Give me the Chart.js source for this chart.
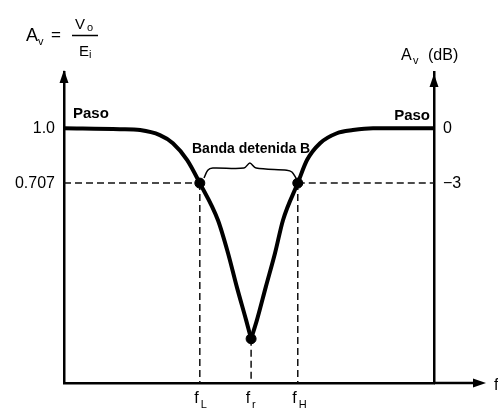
<!DOCTYPE html>
<html>
<head>
<meta charset="utf-8">
<script src="https://cdn.jsdelivr.net/npm/chart.js@4.4.1/dist/chart.umd.min.js"></script>
<style>
  html, body { margin: 0; padding: 0; background: #fff; }
</style>
</head>
<body>
<canvas id="chart" width="498" height="414"></canvas>
<script>
"use strict";

// curve (x: frequency, arbitrary units; y: Av)
const leftX  = [0, 1.33, 1.81, 2.28, 2.59, 2.93, 3.23, 3.66, 3.90, 4.11, 4.33, 4.45];
const leftY  = [1.0, 0.995, 0.99, 0.963, 0.92, 0.83, 0.707, 0.51, 0.334, 0.153, -0.023, -0.124];
const rightX = [4.45, 4.59, 4.80, 5.02, 5.21, 5.56, 5.78, 6.09, 6.49, 6.87, 7.35, 8.8];
const rightY = [-0.124, -0.023, 0.153, 0.334, 0.51, 0.707, 0.83, 0.92, 0.973, 0.99, 1.0, 1.0];

// marked frequencies fL, fr, fH
const freqSubs = ['L', 'r', 'H'];
const freqX = [3.23, 4.45, 5.56];
const freqY = [0.707, -0.124, 0.707];

// brace over the stop band
const braceX = [3.33, 3.42, 3.54, 4.28, 4.42, 4.57, 5.30, 5.42, 5.52];
const braceY = [0.734, 0.776, 0.787, 0.787, 0.814, 0.787, 0.776, 0.766, 0.734];

// axes
const gainTicks = [1.0, 0.707];
const gainLabels = ['1.0', '0.707'];
const dbLabels = ['0', '\u22123'];
const xMin = 0, xMax = 8.8;
const yMin = -0.36, yMax = 1.3;

const pts = (xs, ys) => xs.map((x, i) => ({ x: x, y: ys[i] }));

const dashed = (data) => ({
  data: data,
  showLine: true,
  borderColor: '#111',
  borderWidth: 1.5,
  borderDash: [7, 4],
  pointRadius: 0,
  order: 3,
});

const datasets = [
  {
    data: pts(leftX, leftY),
    showLine: true,
    borderColor: '#000',
    borderWidth: 4,
    cubicInterpolationMode: 'monotone',
    pointRadius: 0,
    order: 1,
  },
  {
    data: pts(rightX, rightY),
    showLine: true,
    borderColor: '#000',
    borderWidth: 4,
    cubicInterpolationMode: 'monotone',
    pointRadius: 0,
    order: 1,
  },
  {
    data: pts(freqX, freqY),
    showLine: false,
    pointRadius: 5,
    pointBackgroundColor: '#000',
    pointBorderColor: '#000',
    order: 0,
  },
  {
    data: pts(braceX, braceY),
    showLine: true,
    borderColor: '#000',
    borderWidth: 1.5,
    tension: 0.3,
    pointRadius: 0,
    order: 2,
  },
  dashed([{ x: xMin, y: gainTicks[1] }, { x: freqX[0], y: gainTicks[1] }]),
  dashed([{ x: freqX[2], y: gainTicks[1] }, { x: xMax, y: gainTicks[1] }]),
];
freqX.forEach((x, i) => {
  datasets.push(dashed([{ x: x, y: freqY[i] }, { x: x, y: yMin }]));
});

const FONT = '"Liberation Sans", Arial, sans-serif';

function text(ctx, str, x, y, size, weight, align) {
  ctx.font = (weight || 'normal') + ' ' + size + 'px ' + FONT;
  ctx.textAlign = align || 'left';
  ctx.textBaseline = 'alphabetic';
  ctx.fillText(str, x, y);
}

function arrow(ctx, x, y, dir) {
  ctx.beginPath();
  if (dir === 'up') {
    ctx.moveTo(x, y);
    ctx.lineTo(x - 4.5, y + 13);
    ctx.lineTo(x + 4.5, y + 13);
  } else {
    ctx.moveTo(x, y);
    ctx.lineTo(x - 13, y - 4.5);
    ctx.lineTo(x - 13, y + 4.5);
  }
  ctx.closePath();
  ctx.fill();
}

const decorations = {
  id: 'decorations',
  afterDraw(chart) {
    const ctx = chart.ctx;
    const sx = chart.scales.x;
    const sy = chart.scales.y;
    const area = chart.chartArea;
    ctx.save();
    ctx.fillStyle = '#000';
    ctx.strokeStyle = '#000';

    // axis arrows
    arrow(ctx, area.left, area.top - 2, 'up');
    arrow(ctx, area.right, area.top + 2, 'up');
    ctx.lineWidth = 2.5;
    ctx.beginPath();
    ctx.moveTo(area.right, area.bottom);
    ctx.lineTo(area.right + 45, area.bottom);
    ctx.stroke();
    arrow(ctx, area.right + 52, area.bottom, 'right');
    // frequency axis name, cut by the page edge
    text(ctx, 'f', area.right + 60, area.bottom + 7, 16);

    // Av = Vo / Ei
    text(ctx, 'A', 26, 41, 18);
    text(ctx, 'v', 38, 45, 11);
    text(ctx, '=', 51, 40, 17);
    text(ctx, 'V', 75, 29, 15);
    text(ctx, 'o', 87, 31, 11);
    ctx.lineWidth = 1.5;
    ctx.beginPath();
    ctx.moveTo(72, 35.5);
    ctx.lineTo(98, 35.5);
    ctx.stroke();
    text(ctx, 'E', 79, 56, 15);
    text(ctx, 'i', 89, 58, 11);

    // Av (dB)
    text(ctx, 'A', 401, 60, 16);
    text(ctx, 'v', 413, 64, 11);
    text(ctx, '(dB)', 428, 60, 16);

    // region labels
    const yOne = sy.getPixelForValue(gainTicks[0]);
    text(ctx, 'Paso', area.left + 9, yOne - 10, 15, 'bold');
    text(ctx, 'Paso', area.right - 4, yOne - 8, 15, 'bold', 'right');
    text(ctx, 'Banda detenida B', sx.getPixelForValue(freqX[1]), sy.getPixelForValue(gainTicks[1]) - 30, 14, 'bold', 'center');

    // fL, fr, fH
    freqX.forEach((f, i) => {
      const px = sx.getPixelForValue(f);
      text(ctx, 'f', px - 1, area.bottom + 20, 16, 'normal', 'right');
      text(ctx, freqSubs[i], px + 1, area.bottom + 25, 11);
    });
    ctx.restore();
  }
};

const sideAxis = (position, labels) => ({
  type: 'linear',
  position: position,
  min: yMin,
  max: yMax,
  grid: { display: false, drawTicks: false },
  border: { display: true, color: '#000', width: 2.5 },
  ticks: {
    color: '#000',
    padding: 9,
    font: { family: FONT, size: 16 },
    callback: (v, i) => labels[i],
  },
  afterBuildTicks: (scale) => {
    scale.ticks = gainTicks.map((v) => ({ value: v }));
  },
  afterFit: (scale) => {
    scale.width = 64;
  },
});

new Chart(document.getElementById('chart'), {
  type: 'scatter',
  data: { datasets: datasets },
  options: {
    responsive: false,
    animation: false,
    layout: { padding: { top: 72 } },
    plugins: {
      legend: { display: false },
      tooltip: { enabled: false },
    },
    scales: {
      x: {
        type: 'linear',
        min: xMin,
        max: xMax,
        grid: { display: false, drawTicks: false },
        border: { display: true, color: '#000', width: 2.5 },
        ticks: { display: false },
        afterFit: (scale) => {
          scale.height = 31;
        },
      },
      y: sideAxis('left', gainLabels),
      y2: sideAxis('right', dbLabels),
    },
  },
  plugins: [decorations],
});
</script>
</body>
</html>
